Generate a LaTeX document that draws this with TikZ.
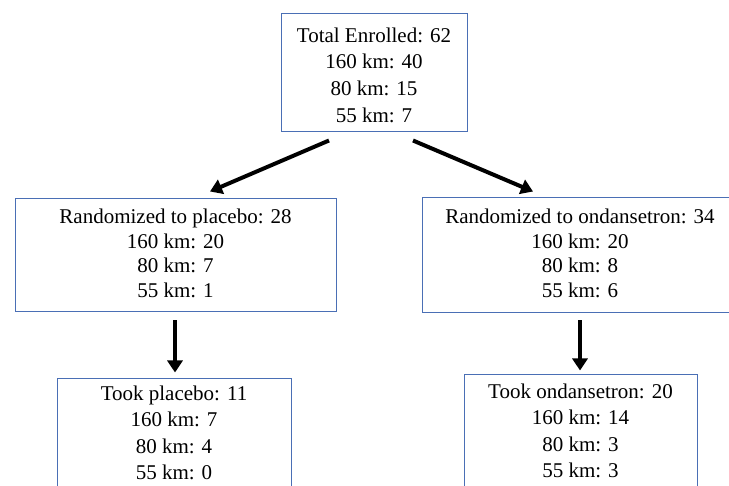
\documentclass[tikz,border=0pt]{standalone}
\usepackage{fontspec}
\setmainfont{Liberation Serif}
\usetikzlibrary{arrows.meta,calc}
\definecolor{boxblue}{HTML}{4A6FB5}
\newcommand\boxlines[3]{\raisebox{#2}[\height][\depth]{\fontsize{21}{#1}\selectfont\begin{tabular}{@{}c@{}}#3\end{tabular}}}
\begin{document}
\begin{tikzpicture}[x=1pt,y=1pt,
  box/.style={draw=boxblue,line width=1pt,align=center,inner sep=0pt},
  arr/.style={line width=4pt,-{Triangle[width=15pt,length=12pt]}}]
\useasboundingbox (0,0) rectangle (729,-486);
\clip (0,0) rectangle (729,-486);
\node[box,minimum width=186pt,minimum height=118pt] (top) at (374,-73)
  {\boxlines{26.7}{-4pt}{Total Enrolled: 62\\160 km: 40\\80 km: 15\\55 km: 7}};
\node[box,minimum width=321pt,minimum height=113pt] (midL) at (175.5,-255.5)
  {\boxlines{24.5}{0pt}{Randomized to placebo: 28\\160 km: 20\\80 km: 7\\55 km: 1}};
\node[box,minimum width=316pt,minimum height=115pt] (midR) at (580,-255.5)
  {\boxlines{24.5}{0pt}{Randomized to ondansetron: 34\\160 km: 20\\80 km: 8\\55 km: 6}};
\node[box,minimum width=234pt,minimum height=113pt] (botL) at (174,-435.5)
  {\boxlines{26.5}{1pt}{Took placebo: 11\\160 km: 7\\80 km: 4\\55 km: 0}};
\node[box,minimum width=233pt,minimum height=113pt] (botR) at (580.5,-431.5)
  {\boxlines{26.5}{-1pt}{Took ondansetron: 20\\160 km: 14\\80 km: 3\\55 km: 3}};
\draw[arr] ($(top.south)+(-45,-8)$) -- ($(midL.north)+(34.5,7)$);
\draw[arr] ($(top.south)+(39,-8)$) -- ($(midR.north)+(-47,6)$);
\draw[arr] ($(midL.south)+(-0.5,-8)$) -- ($(botL.north)+(1,6)$);
\draw[arr] ($(midR.south)+(0,-7)$) -- ($(botR.north)+(-0.5,4)$);
\end{tikzpicture}
\end{document}
